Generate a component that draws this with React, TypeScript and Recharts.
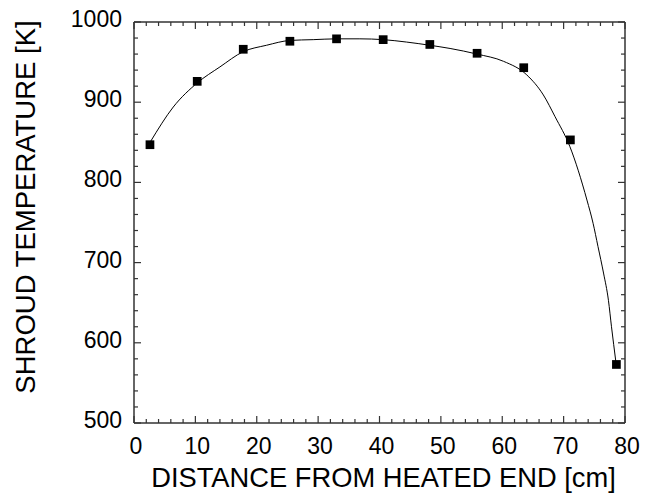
import { ComposedChart, Line, Scatter, XAxis, YAxis, ZAxis } from 'recharts';

// measured points (squares)
const distance = [2.6, 10.3, 17.8, 25.4, 33.0, 40.6, 48.2, 55.9, 63.5, 71.1, 78.6];
const temperature = [847, 926, 966, 976, 979, 978, 972, 961, 943, 853, 573];

// smooth fit curve
const fitDistance = [2.7, 6.4, 10.3, 14.0, 17.8, 21.6, 25.4, 29.2, 33.0, 36.8, 40.6, 44.4, 48.2, 51.5, 55.9, 60.2, 64.0, 66.7, 68.6, 71.0, 73.8, 74.8, 75.6, 76.5, 77.3, 77.8, 78.5];
const fitTemperature = [851, 894, 924, 944, 963, 971, 977, 978, 979, 979, 978, 975, 971, 967, 960, 951, 934, 909, 882, 845, 778, 749, 720, 687, 653, 620, 577];

const xTicks = [0, 2, 4, 6, 8, 10, 12, 14, 16, 18, 20, 22, 24, 26, 28, 30, 32, 34, 36, 38, 40, 42, 44, 46, 48, 50, 52, 54, 56, 58, 60, 62, 64, 66, 68, 70, 72, 74, 76, 78, 80];
const xMajorTicks = [0, 10, 20, 30, 40, 50, 60, 70, 80];
const yTicks = [500, 520, 540, 560, 580, 600, 620, 640, 660, 680, 700, 720, 740, 760, 780, 800, 820, 840, 860, 880, 900, 920, 940, 960, 980, 1000];
const yMajorTicks = [500, 600, 700, 800, 900, 1000];

const points = distance.map((x, i) => ({ x, y: temperature[i] }));
const fit = fitDistance.map((x, i) => ({ x, y: fitTemperature[i] }));

const FONT = 'Arial, "Liberation Sans", sans-serif';
const AXIS = '#333';

const BottomTick = (props: any) => {
    const { x, y, payload } = props;
    const major = xMajorTicks.includes(payload.value);
    return (
        <g>
            <line x1={x} y1={y} x2={x} y2={y - (major ? 7 : 4)} stroke={AXIS} strokeWidth={1.2} />
            {major && (
                <text x={x + 2} y={y + 31} textAnchor="middle" fontSize={23} fontFamily={FONT} fill="#000">
                    {payload.value}
                </text>
            )}
        </g>
    );
};

const TopTick = (props: any) => {
    const { x, y, payload } = props;
    const major = xMajorTicks.includes(payload.value);
    return <line x1={x} y1={y} x2={x} y2={y + (major ? 7 : 4)} stroke={AXIS} strokeWidth={1.2} />;
};

const LeftTick = (props: any) => {
    const { x, y, payload } = props;
    const major = yMajorTicks.includes(payload.value);
    return (
        <g>
            <line x1={x} y1={y} x2={x + (major ? 7 : 4)} y2={y} stroke={AXIS} strokeWidth={1.2} />
            {major && (
                <text x={x - 12} y={y + 5} textAnchor="end" fontSize={23} fontFamily={FONT} fill="#000">
                    {payload.value}
                </text>
            )}
        </g>
    );
};

const RightTick = (props: any) => {
    const { x, y, payload } = props;
    const major = yMajorTicks.includes(payload.value);
    return <line x1={x} y1={y} x2={x - (major ? 7 : 4)} y2={y} stroke={AXIS} strokeWidth={1.2} />;
};

const App = () => {
    return (
        <div style={{ position: 'absolute', left: 0, top: 0 }}>
            <ComposedChart width={657} height={494} margin={{ top: 21, right: 31, left: 5, bottom: 21 }}>
                <XAxis
                    dataKey="x"
                    type="number"
                    domain={[0, 80]}
                    ticks={xTicks}
                    interval={0}
                    tickSize={0}
                    tickMargin={0}
                    tickLine={false}
                    tick={BottomTick}
                    height={50}
                    axisLine={{ stroke: AXIS, strokeWidth: 1.5 }}
                    label={{
                        content: (p: any) => (
                            <text
                                x={p.viewBox.x + p.viewBox.width / 2 + 4}
                                y={487}
                                textAnchor="middle"
                                fontSize={27.3}
                                fontFamily={FONT}
                                fill="#000"
                            >
                                DISTANCE FROM HEATED END [cm]
                            </text>
                        ),
                    }}
                />
                <XAxis
                    xAxisId="top"
                    orientation="top"
                    dataKey="x"
                    type="number"
                    domain={[0, 80]}
                    ticks={xTicks}
                    interval={0}
                    tickSize={0}
                    tickMargin={0}
                    tickLine={false}
                    tick={TopTick}
                    height={1}
                    axisLine={{ stroke: AXIS, strokeWidth: 1.5 }}
                />
                <YAxis
                    type="number"
                    domain={[500, 1000]}
                    ticks={yTicks}
                    interval={0}
                    tickSize={0}
                    tickMargin={0}
                    tickLine={false}
                    tick={LeftTick}
                    width={129}
                    axisLine={{ stroke: AXIS, strokeWidth: 1.5 }}
                    label={{
                        content: () => (
                            <text
                                x={25}
                                y={207}
                                transform="rotate(-90, 25, 207)"
                                textAnchor="middle"
                                dominantBaseline="central"
                                fontSize={27.5}
                                fontFamily={FONT}
                                fill="#000"
                            >
                                SHROUD TEMPERATURE [K]
                            </text>
                        ),
                    }}
                />
                <YAxis
                    yAxisId="right"
                    orientation="right"
                    type="number"
                    domain={[500, 1000]}
                    ticks={yTicks}
                    interval={0}
                    tickSize={0}
                    tickMargin={0}
                    tickLine={false}
                    tick={RightTick}
                    width={1}
                    axisLine={{ stroke: AXIS, strokeWidth: 1.5 }}
                />
                <ZAxis range={[76, 76]} />
                <Line
                    data={fit}
                    dataKey="y"
                    type="monotone"
                    stroke="#000"
                    strokeWidth={1}
                    dot={false}
                    isAnimationActive={false}
                />
                <Scatter
                    data={points}
                    dataKey="y"
                    xAxisId="top"
                    yAxisId="right"
                    fill="#000"
                    shape="square"
                    isAnimationActive={false}
                />
            </ComposedChart>
        </div>
    );
};

export default App;
